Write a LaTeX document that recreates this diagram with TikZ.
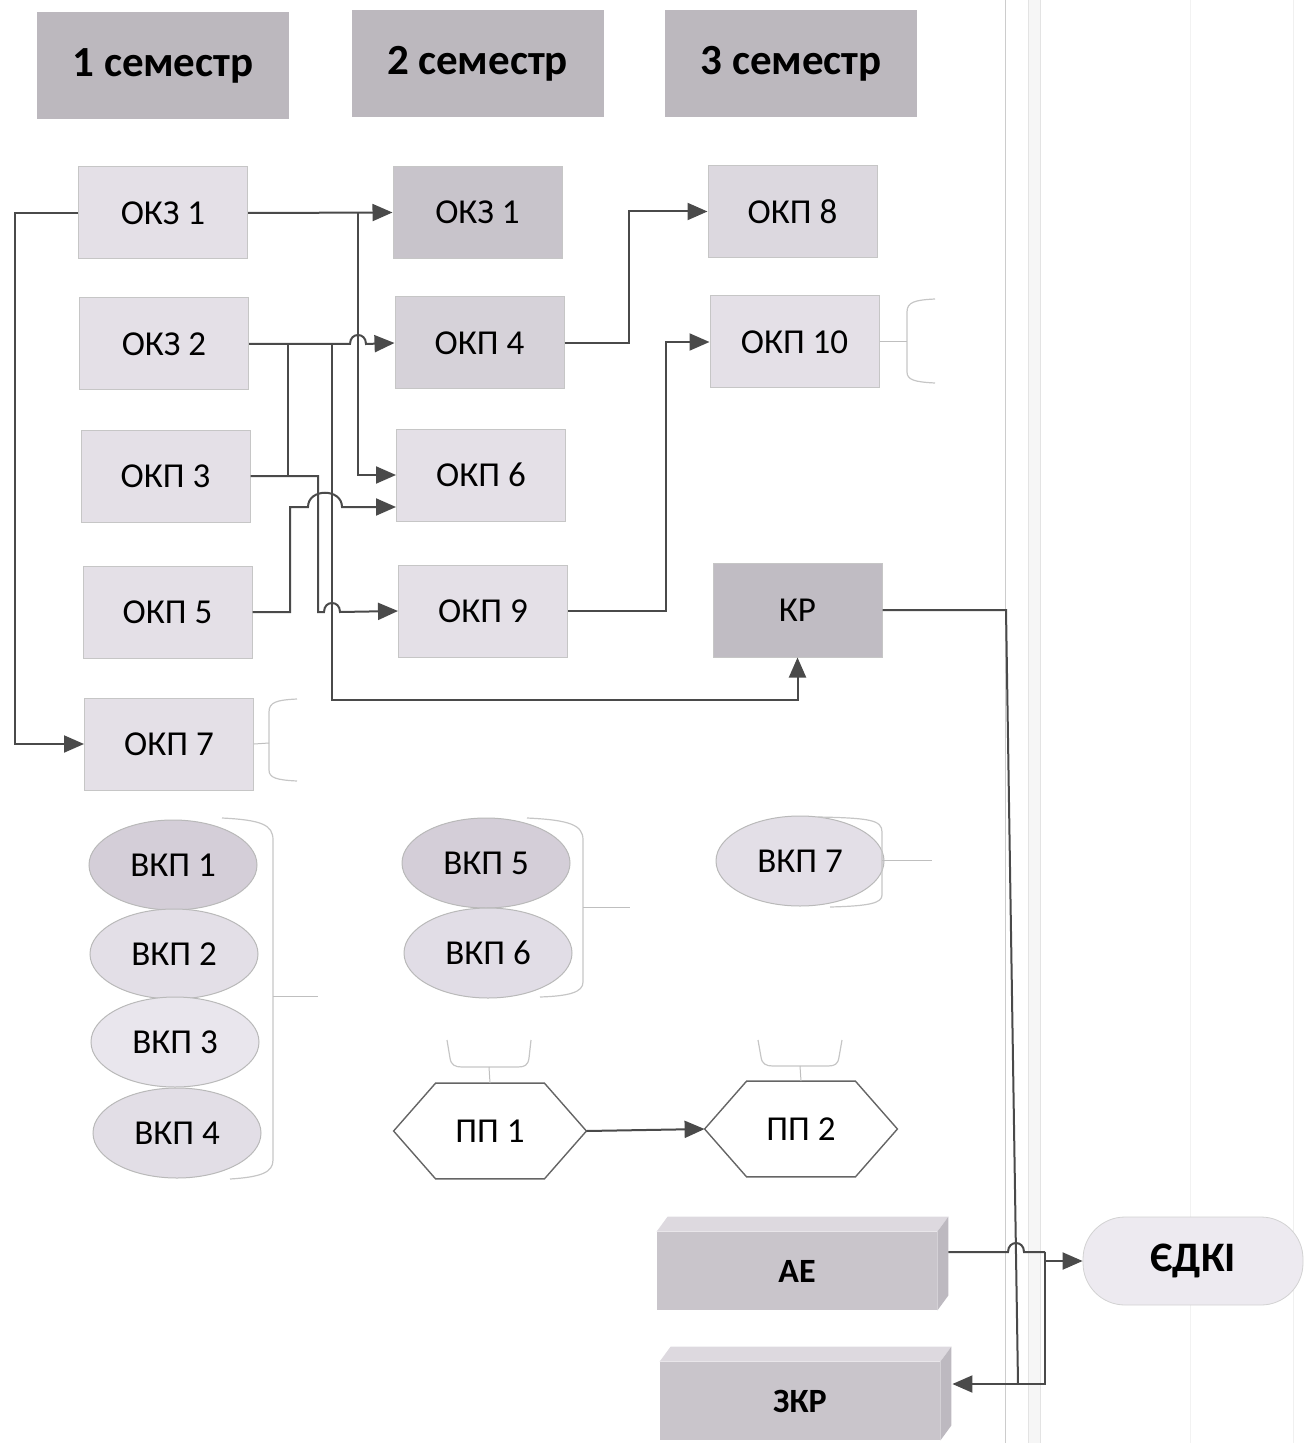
\documentclass[tikz,border=0pt]{standalone}
\usepackage{fontspec}
\setmainfont{Carlito}
\usetikzlibrary{arrows.meta,calc,shapes.geometric}
\definecolor{hdrc}{HTML}{BCB8BE}
\definecolor{lnc}{HTML}{4A4A4A}
\definecolor{cA}{HTML}{E4E0E7}
\definecolor{cB}{HTML}{C8C4CB}
\definecolor{cC}{HTML}{D6D2D9}
\definecolor{cD}{HTML}{DCD8DF}
\definecolor{cK}{HTML}{C0BCC3}
\definecolor{vA}{HTML}{D4CED8}
\definecolor{vB}{HTML}{E3DFE7}
\definecolor{vC}{HTML}{E9E6ED}
\definecolor{vD}{HTML}{E2DEE6}
\definecolor{cubef}{HTML}{C9C5CB}
\definecolor{cubet}{HTML}{DDD9DF}
\definecolor{cubes}{HTML}{BDB9C0}
\definecolor{edkic}{HTML}{EDEAF0}
\newcommand\lblfont{\fontsize{17.5}{20}\selectfont}
\newcommand\hdrfont{\fontsize{21.5}{24}\selectfont\bfseries}
\newcommand\bigfont{\fontsize{21}{24}\selectfont\bfseries}
\newcommand\cubefont{\fontsize{17}{20}\selectfont\bfseries}
\tikzset{
  hdr/.style={rectangle, fill=hdrc, minimum width=126pt, minimum height=53.5pt, inner sep=0pt, font=\hdrfont},
  box/.style={rectangle, draw=gray!45, line width=0.5pt, minimum width=84.5pt, minimum height=46pt, inner sep=0pt, font=\lblfont},
  oval/.style={ellipse, draw=gray!55, line width=0.5pt, minimum width=84pt, minimum height=45pt, inner sep=0pt, font=\lblfont},
  hexn/.style={rectangle, minimum width=96pt, minimum height=47.5pt, inner sep=0pt, font=\lblfont},
  hexd/.style={draw=lnc!85, line width=0.7pt},
  cubefront/.style={rectangle, fill=cubef, minimum width=140pt, minimum height=39pt, inner sep=0pt, font=\cubefont},
  ln/.style={draw=lnc, line width=1pt},
  arr/.style={ln, -{Triangle[length=10pt,width=8.5pt]}},
  brk/.style={draw=gray!45, line width=0.6pt},
  tickln/.style={draw=gray!50, line width=0.5pt},
  bgline/.style={draw=gray!40, line width=0.4pt},
}
\begin{document}
\begin{tikzpicture}[x=0.5pt,y=-0.5pt]
\useasboundingbox (0,0) rectangle (1313,1443);
% background scan lines
\fill[gray!7] (1028,0) rectangle (1040,1443);
\draw[gray!22, line width=0.4pt] (1028,0) -- (1028,1443);
\draw[gray!22, line width=0.4pt] (1040,0) -- (1040,1443);
\draw[bgline] (1005,0) -- (1005,1443);
\draw[gray!10, line width=0.4pt] (1190,0) -- (1190,1443);
\draw[gray!12, line width=0.4pt] (1293,0) -- (1293,1443);

% headers
\node[hdr] (h1) at (163,65.5) {1 семестр};
\node[hdr] (h2) at (477.5,64) {2 семестр};
\node[hdr] (h3) at (791,63.5) {3 семестр};

% column 1
\node[box, fill=cA] (okzA) at (163,213) {ОКЗ 1};
\node[box, fill=cA] (okzB) at (164,344) {ОКЗ 2};
\node[box, fill=cA] (okp3) at (165.5,476) {ОКП 3};
\node[box, fill=cA] (okp5) at (167.5,612) {ОКП 5};
\node[box, fill=cA] (okp7) at (169,744) {ОКП 7};

% column 2
\node[box, fill=cB] (okzC) at (477.5,212.5) {ОКЗ 1};
\node[box, fill=cC] (okp4) at (479.5,343) {ОКП 4};
\node[box, fill=cA] (okp6) at (481,475) {ОКП 6};
\node[box, fill=cA] (okp9) at (483,611) {ОКП 9};

% column 3
\node[box, fill=cD] (okp8) at (792.5,211.5) {ОКП 8};
\node[box, fill=cA] (okp10) at (794.5,342) {ОКП 10};
\node[box, fill=cK, minimum height=47pt] (kr) at (797.5,610) {КР};

% ellipses
\node[oval, fill=vA] (vkp1) at (173,865) {ВКП 1};
\node[oval, fill=vB] (vkp2) at (174,954) {ВКП 2};
\node[oval, fill=vC] (vkp3) at (175,1042) {ВКП 3};
\node[oval, fill=vD] (vkp4) at (177,1133) {ВКП 4};
\node[oval, fill=vA] (vkp5) at (486,863) {ВКП 5};
\node[oval, fill=vB!90!vA] (vkp6) at (488,953) {ВКП 6};
\node[oval, fill=vB] (vkp7) at (800,861) {ВКП 7};

% hexagons
\node[hexn] (pp1) at (490,1131) {ПП 1};
\draw[hexd] (pp1.west) -- ($(pp1.north west)+(21pt,0)$) -- ($(pp1.north east)+(-21pt,0)$) -- (pp1.east) -- ($(pp1.south east)+(-21pt,0)$) -- ($(pp1.south west)+(21pt,0)$) -- cycle;
\node[hexn] (pp2) at (801,1129) {ПП 2};
\draw[hexd] (pp2.west) -- ($(pp2.north west)+(21pt,0)$) -- ($(pp2.north east)+(-21pt,0)$) -- (pp2.east) -- ($(pp2.south east)+(-21pt,0)$) -- ($(pp2.south west)+(21pt,0)$) -- cycle;

% 3D boxes
\node[cubefront] (ae) at (797,1271) {АЕ};
\fill[cubet] (ae.north west) -- ++(5.5pt,7.5pt) -- ($(ae.north east)+(5.5pt,7.5pt)$) -- (ae.north east) -- cycle;
\fill[cubes] (ae.north east) -- ++(5.5pt,7.5pt) -- ($(ae.south east)+(5.5pt,7.5pt)$) -- (ae.south east) -- cycle;
\node[cubefront] (zkr) at (800,1401) {ЗКР};
\fill[cubet] (zkr.north west) -- ++(5.5pt,7.5pt) -- ($(zkr.north east)+(5.5pt,7.5pt)$) -- (zkr.north east) -- cycle;
\fill[cubes] (zkr.north east) -- ++(5.5pt,7.5pt) -- ($(zkr.south east)+(5.5pt,7.5pt)$) -- (zkr.south east) -- cycle;
\coordinate (aeout) at ($(ae.east)+(5.5pt,9.5pt)$);
\coordinate (zkrin) at ($(zkr.east)+(6pt,8.5pt)$);

% ЄДКІ
\node[rectangle, rounded corners=21pt, draw=gray!35, fill=edkic, minimum width=110pt, minimum height=44pt, inner sep=0pt, font=\bigfont] (edki) at (1193,1261) {ЄДКІ};

% brackets
\draw[brk] (935,299) .. controls (915,300) and (907,302) .. (907,312) -- (907,372) .. controls (907,380) and (915,382) .. (935,383);
\draw[tickln] (okp10.east) -- (907,342);
\draw[brk] (297,699) .. controls (277,700) and (269,702) .. (269,712) -- (269,770) .. controls (269,778) and (277,780) .. (297,781);
\draw[tickln] (okp7.east) -- (269,743);
\draw[brk] (222,818) .. controls (262,820) and (273,825) .. (273,840) -- (273,1160) .. controls (273,1172) and (262,1177) .. (230,1179);
\draw[tickln] (273,996) -- (318,996);
\draw[brk] (527,818) .. controls (570,820) and (583,825) .. (583,840) -- (583,982) .. controls (583,992) and (570,996) .. (540,997);
\draw[tickln] (583,907) -- (630,907);
\draw[brk] (818,817) .. controls (870,818) and (882,820) .. (882,832) -- (882,895) .. controls (882,903) and (870,906) .. (830,907);
\draw[tickln] (882,860) -- (932,860);
\draw[brk] (447,1040) -- (450,1058) .. controls (451,1065) and (455,1067) .. (462,1067) -- (518,1067) .. controls (525,1067) and (528,1065) .. (529,1058) -- (531,1040);
\draw[tickln] (489,1067) -- (pp1.north);
\draw[brk] (758,1040) -- (761,1057) .. controls (762,1064) and (766,1066) .. (773,1066) -- (828,1066) .. controls (835,1066) and (838,1064) .. (839,1057) -- (842,1040);
\draw[tickln] (800,1066) -- (pp2.north);

% connectors
\draw[arr] (okzA.west) -- (15,213) |- (okp7.west);
\draw[arr] (okzA.east) -- (okzC.west);
\draw[arr] (358,212.5) |- (okp6.west);
\draw[arr] (okzB.east) -- (350,344) .. controls (350,332) and (366,332) .. (366,344) -- (okp4.west);
\draw[ln] (288,344) -- (288,476);
\draw[arr] (okp3.east) -- (318,476) -- (318,612) -- (324,612) .. controls (324,600) and (340,600) .. (340,612) -- (okp9.west);
\draw[arr] (okp5.east) -- (290,612) -- (290,507) -- (308,507) .. controls (308,488) and (342,488) .. (342,507) -- ($(okp6.west)+(0,-16pt)$);
\draw[arr] (332,344) -- (332,700) -| (kr.south);
\draw[arr] (okp4.east) -- (629,343) |- (okp8.west);
\draw[arr] (okp9.east) -- (666,611) |- (okp10.west);
\draw[ln] (kr.east) -- (1006,610) -- (1018,1384);
\draw[ln] (aeout) -- (1008,1252) .. controls (1008,1240) and (1024,1240) .. (1024,1252) -- (1045,1252);
\draw[arr] (1045,1252) -- (1045,1384) -- (zkrin);
\draw[arr] (1045,1261) -- (edki.west);
\draw[arr] (pp1.east) -- (pp2.west);
\end{tikzpicture}
\end{document}
